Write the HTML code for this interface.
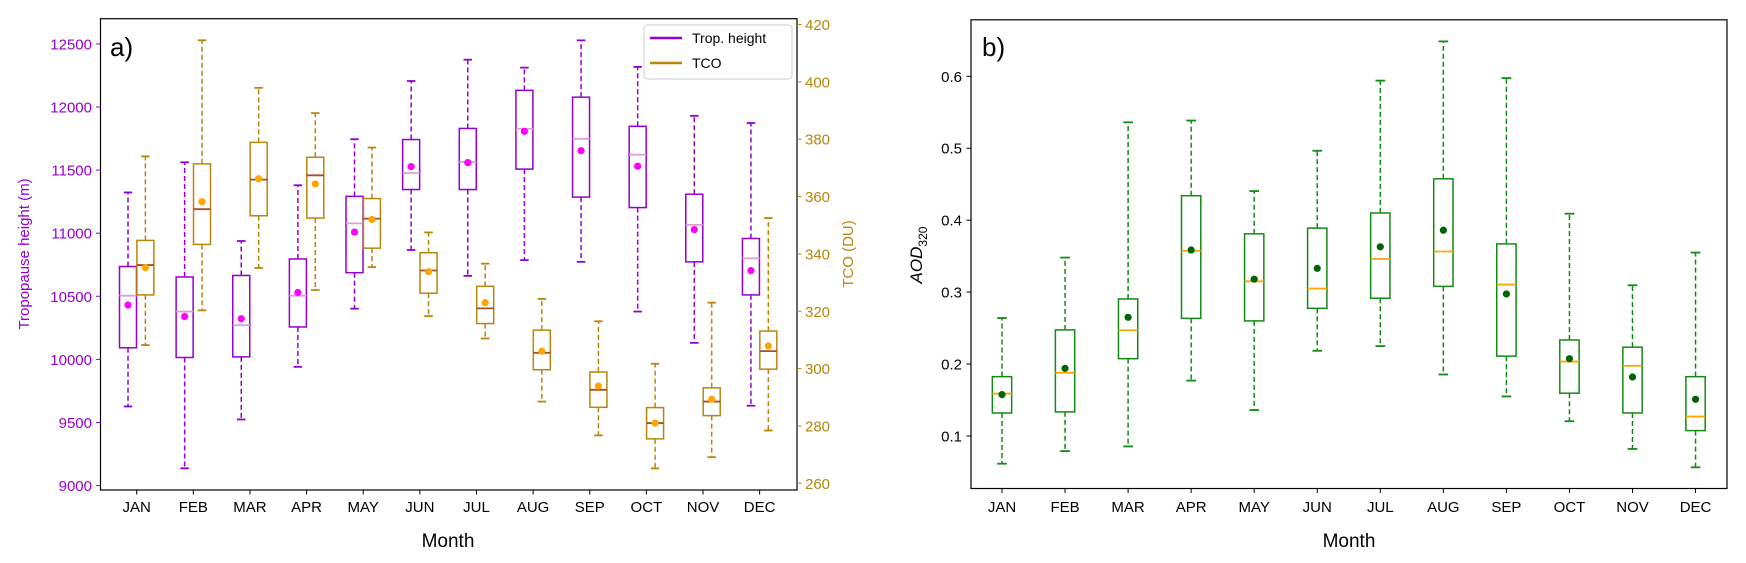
<!DOCTYPE html>
<html><head><meta charset="utf-8"><style>
html,body{margin:0;padding:0;background:#fff;}
svg{display:block;font-family:"Liberation Sans","DejaVu Sans",sans-serif;}
</style></head><body>
<svg id="fig" width="1746" height="563" viewBox="0 0 1746 563" xmlns="http://www.w3.org/2000/svg"></svg>
<script>
const months=["JAN","FEB","MAR","APR","MAY","JUN","JUL","AUG","SEP","OCT","NOV","DEC"];
// Panel a: tropopause height (m)
const tpLow=[9627,9137,9524,9941,10402,10867,10662,10787,10773,10379,10131,9633];
const tpQ1=[10092,10015,10020,10257,10687,11346,11346,11508,11286,11203,10773,10511];
const tpMed=[10505,10379,10271,10505,11078,11477,11565,11827,11748,11622,11066,10801];
const tpQ3=[10736,10653,10665,10796,11292,11742,11830,12132,12078,11847,11309,10958];
const tpHigh=[11323,11562,10938,11380,11745,12206,12375,12312,12528,12318,11930,11873];
const tpMean=[10431,10340,10322,10530,11009,11528,11559,11807,11654,11531,11029,10704];
// Panel a: TCO (DU)
const tcoLow=[308.2,320.3,335.1,327.4,335.4,318.3,310.5,288.5,276.7,265.2,269.1,278.4];
const tcoQ1=[325.7,343.3,353.3,352.5,342.0,326.3,315.7,299.6,286.5,275.5,283.6,299.8];
const tcoMed=[336.1,355.6,365.9,367.4,352.3,334.2,321.0,305.5,292.6,281.0,288.5,306.1];
const tcoQ3=[344.7,371.4,378.9,373.7,359.3,340.4,328.7,313.4,298.8,286.4,293.3,313.1];
const tcoHigh=[374.0,414.5,397.9,389.1,377.1,347.5,336.6,324.3,316.5,301.7,323.0,352.5];
const tcoMean=[335.2,358.2,366.2,364.4,352.0,333.8,323.0,306.1,293.9,281.0,289.3,307.9];
// Panel b: AOD320
const aodLow=[0.0615,0.079,0.0855,0.177,0.136,0.2185,0.225,0.1855,0.155,0.1205,0.082,0.0565];
const aodQ1=[0.132,0.1335,0.2075,0.2635,0.26,0.2775,0.2915,0.308,0.211,0.1595,0.132,0.1075];
const aodMed=[0.159,0.188,0.247,0.3575,0.315,0.305,0.346,0.3565,0.3105,0.2035,0.1975,0.127];
const aodQ3=[0.1825,0.2475,0.2905,0.434,0.381,0.389,0.41,0.4575,0.367,0.2335,0.2235,0.1825];
const aodHigh=[0.264,0.348,0.536,0.5385,0.4405,0.4965,0.594,0.6485,0.5975,0.409,0.3095,0.355];
const aodMean=[0.1575,0.194,0.265,0.3585,0.318,0.333,0.363,0.386,0.2975,0.2075,0.182,0.151];
const tpTicks=[9000,9500,10000,10500,11000,11500,12000,12500];
const tcoTicks=[260,280,300,320,340,360,380,400,420];
const aodTicks=[0.1,0.2,0.3,0.4,0.5,0.6];

const svg=document.getElementById('fig');
const NS="http://www.w3.org/2000/svg";
function mk(tag,attrs,parent){const e=document.createElementNS(NS,tag);for(const k in attrs)e.setAttribute(k,attrs[k]);(parent||svg).appendChild(e);return e;}
function txt(s,attrs,parent){const e=mk('text',attrs,parent);e.textContent=s;return e;}

// scales
const yTP=v=>485.6-(v-9000)*(485.6-43.9)/3500;
const yTCO=v=>483.3-(v-260)*(483.3-24.5)/160;
const xA=i=>136.7+i*56.63;
const yAOD=v=>436-(v-0.1)*(436-76.3)/0.5;
const xB=i=>1002+i*63.05;

function box(g,x,w,lo,q1,md,q3,hi,mn,col,medCol,meanCol,name,i){
  const bg=mk('g',{},g);
  
  
  mk('line',{x1:x,x2:x,y1:q1,y2:lo,stroke:col,'stroke-width':1.5,'stroke-dasharray':'5,3'},bg);
  mk('line',{x1:x,x2:x,y1:q3,y2:hi,stroke:col,'stroke-width':1.5,'stroke-dasharray':'5,3'},bg);
  mk('line',{x1:x-w/4,x2:x+w/4,y1:lo,y2:lo,stroke:col,'stroke-width':1.8},bg);
  mk('line',{x1:x-w/4,x2:x+w/4,y1:hi,y2:hi,stroke:col,'stroke-width':1.8},bg);
  mk('rect',{x:x-w/2,y:q3,width:w,height:q1-q3,fill:'none',stroke:col,'stroke-width':1.5},bg);
  mk('line',{x1:x-w/2,x2:x+w/2,y1:md,y2:md,stroke:medCol,'stroke-width':1.8},bg);
  mk('circle',{cx:x,cy:mn,r:3.6,fill:meanCol},bg);
}

// ---------- Panel a ----------
const ga=mk('g',{});


const PUR='#9400d3', GOLD='#b8860b';
for(let i=0;i<12;i++){
  box(ga,xA(i)-8.7,17,yTP(tpLow[i]),yTP(tpQ1[i]),yTP(tpMed[i]),yTP(tpQ3[i]),yTP(tpHigh[i]),yTP(tpMean[i]),PUR,'#dda0dd','#ff00ff','trop-height',i);
  box(ga,xA(i)+8.7,17,yTCO(tcoLow[i]),yTCO(tcoQ1[i]),yTCO(tcoMed[i]),yTCO(tcoQ3[i]),yTCO(tcoHigh[i]),yTCO(tcoMean[i]),GOLD,'#a0522d','#ffa500','tco',i);
}
mk('rect',{x:100.5,y:18.7,width:696.5,height:471.3,fill:'none',stroke:'#000','stroke-width':1.2},ga);
tpTicks.forEach(t=>{
  const y=yTP(t);
  mk('line',{x1:96,x2:100.5,y1:y,y2:y,stroke:PUR,'stroke-width':1},ga);
  const e=txt(String(t),{x:92,y:y+5.5,'text-anchor':'end','font-size':15,fill:PUR},ga);
  
  
});
tcoTicks.forEach(t=>{
  const y=yTCO(t);
  mk('line',{x1:797,x2:801.5,y1:y,y2:y,stroke:GOLD,'stroke-width':1},ga);
  const e=txt(String(t),{x:805,y:y+5.5,'font-size':15,fill:GOLD},ga);
  
  
});
months.forEach((m,i)=>{
  const x=xA(i);
  mk('line',{x1:x,x2:x,y1:490,y2:494.5,stroke:'#000','stroke-width':1},ga);
  const e=txt(m,{x:x,y:512,'text-anchor':'middle','font-size':15,fill:'#000'},ga);
  
  
});
let e;
e=txt('Month',{x:448,y:547,'text-anchor':'middle','font-size':19,fill:'#000'},ga);

e=txt('Tropopause height (m)',{x:0,y:0,'text-anchor':'middle','font-size':15,fill:PUR,transform:'translate(29,254) rotate(-90)'},ga);

e=txt('TCO (DU)',{x:0,y:0,'text-anchor':'middle','font-size':15,fill:GOLD,transform:'translate(853,254) rotate(-90)'},ga);

e=txt('a)',{x:110,y:56,'font-size':26,fill:'#000'},ga);

// legend
const lg=mk('g',{},ga);


mk('rect',{x:644,y:25,width:148,height:54,rx:3,fill:'#fff',stroke:'#ccc','stroke-width':1},lg);
mk('line',{x1:650,x2:682,y1:38,y2:38,stroke:PUR,'stroke-width':2.5},lg);
e=txt('Trop. height',{x:692,y:43,'font-size':14,fill:'#000'},lg);

mk('line',{x1:650,x2:682,y1:63,y2:63,stroke:GOLD,'stroke-width':2.5},lg);
e=txt('TCO',{x:692,y:68,'font-size':14,fill:'#000'},lg);


// ---------- Panel b ----------
const gb=mk('g',{});


for(let i=0;i<12;i++){
  box(gb,xB(i),19.3,yAOD(aodLow[i]),yAOD(aodQ1[i]),yAOD(aodMed[i]),yAOD(aodQ3[i]),yAOD(aodHigh[i]),yAOD(aodMean[i]),'#138a13','#ffa500','#006400','aod',i);
}
mk('rect',{x:971,y:19.8,width:756,height:468.7,fill:'none',stroke:'#000','stroke-width':1.2},gb);
aodTicks.forEach(t=>{
  const y=yAOD(t);
  mk('line',{x1:966.5,x2:971,y1:y,y2:y,stroke:'#000','stroke-width':1},gb);
  const e=txt(t.toFixed(1),{x:962,y:y+5.5,'text-anchor':'end','font-size':15,fill:'#000'},gb);
  
  
});
months.forEach((m,i)=>{
  const x=xB(i);
  mk('line',{x1:x,x2:x,y1:488.5,y2:493,stroke:'#000','stroke-width':1},gb);
  const e=txt(m,{x:x,y:512,'text-anchor':'middle','font-size':15,fill:'#000'},gb);
  
  
});
e=txt('Month',{x:1349,y:547,'text-anchor':'middle','font-size':19,fill:'#000'},gb);

const at=mk('text',{x:0,y:0,'text-anchor':'middle','font-size':17,fill:'#000',transform:'translate(922,255) rotate(-90)'},gb);


const t1=mk('tspan',{'font-style':'italic'},at);t1.textContent='AOD';
const t2=mk('tspan',{'font-size':12,dy:5},at);t2.textContent='320';
e=txt('b)',{x:982,y:56,'font-size':26,fill:'#000'},gb);

</script>
</body></html>
